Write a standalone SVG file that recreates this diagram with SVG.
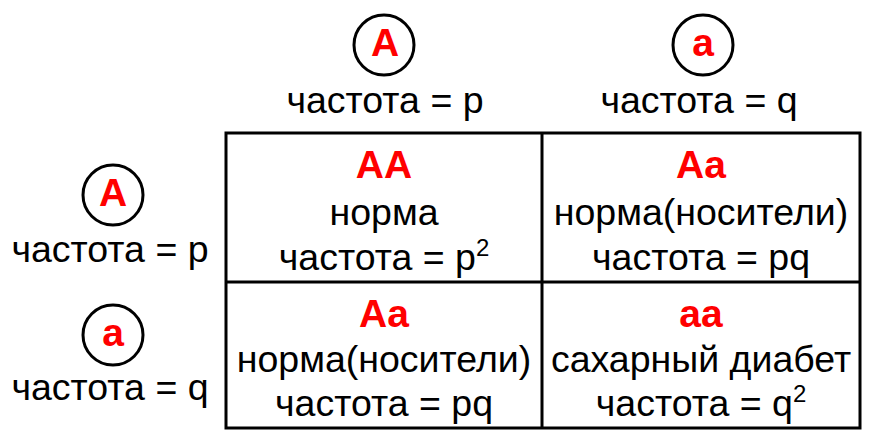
<svg xmlns="http://www.w3.org/2000/svg" width="871" height="441" viewBox="0 0 871 441">
<style>
text{font-family:"Liberation Sans",Arial,sans-serif;text-anchor:middle;fill:#000;font-size:37.5px}
.r{fill:#ff0000;font-weight:bold;font-size:39px}
.c{fill:#fff;stroke:#000;stroke-width:3}
.g{fill:none;stroke:#000;stroke-width:3}
.s{font-size:24px}
</style>
<rect width="871" height="441" fill="#fff"/>
<g id="allele-top-A"><circle class="c" cx="384" cy="45" r="30"/><text class="r" x="385" y="56">A</text><text x="385" y="113">частота = p</text></g>
<g id="allele-top-a"><circle class="c" cx="703" cy="45" r="30"/><text class="r" x="703" y="56">a</text><text x="699" y="113">частота = q</text></g>
<g id="allele-left-A"><circle class="c" cx="113" cy="195" r="30"/><text class="r" x="113" y="206">A</text><text x="110" y="262">частота = p</text></g>
<g id="allele-left-a"><circle class="c" cx="113" cy="335" r="30"/><text class="r" x="113" y="346">a</text><text x="110" y="400">частота = q</text></g>
<g id="grid"><rect class="g" x="226" y="133" width="634" height="295"/><line class="g" x1="542" y1="133" x2="542" y2="428"/><line class="g" x1="226" y1="282" x2="860" y2="282"/></g>
<g id="cell-AA"><text class="r" x="384" y="178">AA</text><text x="384" y="225">норма</text><text x="384" y="270">частота = p<tspan class="s" dy="-14">2</tspan></text></g>
<g id="cell-Aa-1"><text class="r" x="701" y="178">Aa</text><text x="701" y="225">норма(носители)</text><text x="701" y="270">частота = pq</text></g>
<g id="cell-Aa-2"><text class="r" x="384" y="327">Aa</text><text x="384" y="372">норма(носители)</text><text x="384" y="416">частота = pq</text></g>
<g id="cell-aa"><text class="r" x="701" y="327">aa</text><text x="701" y="372">сахарный диабет</text><text x="701" y="416">частота = q<tspan class="s" dy="-14">2</tspan></text></g>
</svg>
